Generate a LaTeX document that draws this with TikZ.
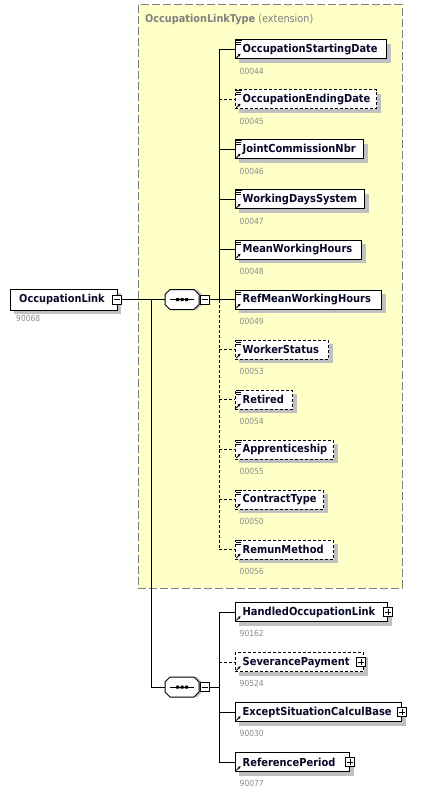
\documentclass[tikz,border=0pt]{standalone}
\usepackage{fontspec}
\setmainfont{DejaVu Sans}[FakeStretch=0.9]
\usetikzlibrary{shadows,arrows.meta}
\definecolor{bgyellow}{RGB}{255,255,200}
\definecolor{shgray}{RGB}{192,192,192}
\definecolor{idgray}{RGB}{140,140,140}
\definecolor{framegray}{RGB}{128,128,128}
\definecolor{txtnavy}{RGB}{8,8,40}
\tikzset{
  elembox/.style={draw=black, fill=white, line width=1pt, anchor=west, minimum height=19pt, inner sep=0pt,
    drop shadow={shadow xshift=4pt, shadow yshift=-4pt, fill=shgray, opacity=1}},
  optbox/.style={elembox, dash pattern=on 3pt off 2pt},
  lbl/.style={anchor=west, font=\bfseries\fontsize{11}{13}\selectfont, text=txtnavy, inner sep=0pt},
  idn/.style={anchor=west, font=\fontsize{8.4}{10}\selectfont, text=idgray, inner sep=0pt},
  conn/.style={line width=1pt},
  optconn/.style={line width=1pt, dash pattern=on 3pt off 2pt},
  pmbox/.style={draw=black, fill=white, line width=0.8pt, minimum size=9pt, inner sep=0pt},
  minusbox/.style={pmbox, path picture={\draw[line width=0.8pt] ([xshift=-3pt]path picture bounding box.center) -- ([xshift=3pt]path picture bounding box.center);}},
  plusbox/.style={pmbox, path picture={\draw[line width=0.8pt] ([xshift=-3pt]path picture bounding box.center) -- ([xshift=3pt]path picture bounding box.center) ([yshift=-3pt]path picture bounding box.center) -- ([yshift=3pt]path picture bounding box.center);}},
  seqbox/.style={minimum width=34pt, minimum height=20pt, inner sep=0pt},
  icoline/.style={line width=0.8pt},
}
% #1 name, #2 style, #3 y, #4 width, #5 text, #6 id
\newcommand\xelem[6]{%
  \node[#2, minimum width=#4pt] (#1) at (234.5,#3) {};
  \node[lbl] (#1-t) at ([xshift=8pt,yshift=-0.3pt]#1.west) {#5};
  \node[idn] (#1-id) at ([xshift=5pt,yshift=-21.5pt]#1.west) {#6};
  \draw[icoline, -{Stealth[length=2.8pt,width=3pt]}] ([xshift=1.8pt,yshift=1.6pt]#1.south west) -- ++(4.2,-4.2);
}
\newcommand\xlines[1]{%
  \draw[icoline] ([xshift=1.5pt,yshift=-1.3pt]#1.north west) -- ++(6,0)
    ([xshift=1.5pt,yshift=-3.3pt]#1.north west) -- ++(4.5,0)
    ([xshift=1.5pt,yshift=-5.3pt]#1.north west) -- ++(4.5,0);
}
% octagon compositor #1 cx #2 cy
\newcommand\xocto[2]{%
  \fill[shgray] (#1-14,#2-5) -- (#1-9,#2-10) -- (#1+15,#2-10) -- (#1+20,#2-5) -- (#1+20,#2+5) -- (#1+15,#2+10) -- (#1-9,#2+10) -- (#1-14,#2+5) -- cycle;
  \draw[line width=1pt, fill=white] (#1-17,#2-5) -- (#1-12,#2-10) -- (#1+12,#2-10) -- (#1+17,#2-5) -- (#1+17,#2+5) -- (#1+12,#2+10) -- (#1-12,#2+10) -- (#1-17,#2+5) -- cycle;
  \draw[line width=0.8pt] (#1-12,#2) -- (#1+12,#2);
  \fill (#1-6,#2-1.5) rectangle ++(3,3) (#1-1.5,#2-1.5) rectangle ++(3,3) (#1+3,#2-1.5) rectangle ++(3,3);
}
\begin{document}
\begin{tikzpicture}[x=1pt,y=-1pt]
\useasboundingbox (0,0) rectangle (434,794);
\fill[white] (0,0) rectangle (434,794);
% extension frame
\draw[framegray, line width=1pt, dash pattern=on 8pt off 3pt, fill=bgyellow] (138,5) rectangle (402,588);
\node[anchor=west, inner sep=0pt, text=framegray, font=\fontsize{10.8}{12}\selectfont] (title) at (145,19.5) {\textbf{OccupationLinkType} (extension)};

% root element
\node[draw=black, fill=white, line width=1pt, minimum width=107pt, minimum height=21pt, inner sep=0pt,
  drop shadow={shadow xshift=4pt, shadow yshift=-4pt, fill=shgray, opacity=1}] (occ) at (63.5,299.5) {};
\node[lbl, font=\bfseries\fontsize{10.9}{13}\selectfont] (occ-t) at (19,299.2) {OccupationLink};
\node[idn] (occ-id) at (16,318.5) {90068};
\node[minusbox] (om) at (117,299.5) {};

% compositors
\node[seqbox] (q1) at (182,299.5) {};
\xocto{182}{299.5}
\node[minusbox] (q1m) at (204.5,299.5) {};
\node[seqbox] (q2) at (182,687) {};
\xocto{182}{687}
\node[minusbox] (q2m) at (204.5,687) {};

\coordinate (br) at (151,299.5);
\coordinate (s1top) at (219,49.5);
\coordinate (s2top) at (219,612);

\draw[conn] (om.east) -- (q1.west);
\draw[conn] (br) |- (q2.west);
\draw[conn] (q1m.east) -- (q1m.east -| s1top);
\draw[conn] (q2m.east) -- (q2m.east -| s2top);

% group 1
\xelem{e1}{elembox}{49.5}{151.5}{OccupationStartingDate}{00044}
\xelem{e2}{optbox}{99.5}{141.5}{OccupationEndingDate}{00045}
\xelem{e3}{elembox}{149.5}{128.5}{JointCommissionNbr}{00046}
\xelem{e4}{elembox}{199.5}{129.5}{WorkingDaysSystem}{00047}
\xelem{e5}{elembox}{249.5}{126.5}{MeanWorkingHours}{00048}
\xelem{e6}{elembox}{299.5}{146.5}{RefMeanWorkingHours}{00049}
\xelem{e7}{optbox}{349.5}{93.5}{WorkerStatus}{00053}
\xelem{e8}{optbox}{399.5}{57.5}{Retired}{00054}
\xelem{e9}{optbox}{449.5}{98.5}{Apprenticeship}{00055}
\xelem{e10}{optbox}{499.5}{88.5}{ContractType}{00050}
\xelem{e11}{optbox}{549.5}{98.5}{RemunMethod}{00056}
\foreach \n in {e1,e2,e3,e4,e5,e6,e7,e8,e9,e10,e11} {\xlines{\n}}

\draw[conn] (e1.west -| s1top) -- (e6.west -| s1top);
\draw[optconn] (e6.west -| s1top) -- (e11.west -| s1top);
\foreach \n in {e1,e3,e4,e5,e6} {\draw[conn] (\n.west -| s1top) -- (\n.west);}
\foreach \n in {e2,e7,e8,e9,e10,e11} {\draw[optconn] (\n.west -| s1top) -- (\n.west);}

% group 2
\xelem{f1}{elembox}{612}{152.5}{HandledOccupationLink}{90162}
\xelem{f2}{optbox}{662}{128.5}{SeverancePayment}{90524}
\xelem{f3}{elembox}{712}{166.5}{ExceptSituationCalculBase}{90030}
\xelem{f4}{elembox}{762}{114.5}{ReferencePeriod}{90077}
\node[plusbox] (f1p) at (f1.east) {};
\node[plusbox] (f2p) at ([xshift=-3pt]f2.east) {};
\node[plusbox] (f3p) at (f3.east) {};
\node[plusbox] (f4p) at (f4.east) {};

\draw[conn] (f1.west -| s2top) -- (f4.west -| s2top);
\foreach \n in {f1,f3,f4} {\draw[conn] (\n.west -| s2top) -- (\n.west);}
\draw[optconn] (f2.west -| s2top) -- (f2.west);
\end{tikzpicture}
\end{document}
